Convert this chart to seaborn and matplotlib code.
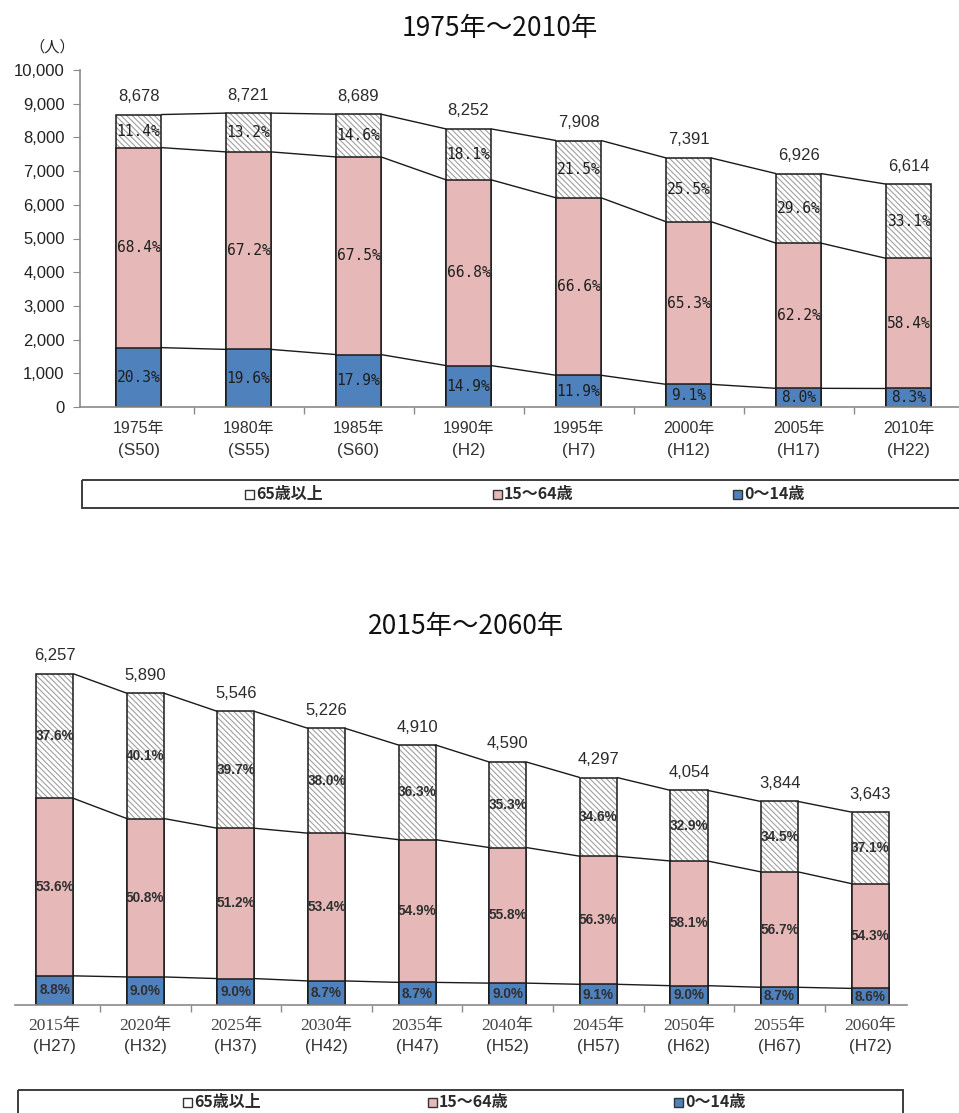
import matplotlib
matplotlib.use("Agg")
import matplotlib.pyplot as plt
from matplotlib.patches import Rectangle
import seaborn as sns

# ---- data -------------------------------------------------------------
past_years = ["1975年", "1980年", "1985年", "1990年", "1995年", "2000年", "2005年", "2010年"]
past_eras = ["(S50)", "(S55)", "(S60)", "(H2)", "(H7)", "(H12)", "(H17)", "(H22)"]
past_total = [8678, 8721, 8689, 8252, 7908, 7391, 6926, 6614]
past_p65 = [11.4, 13.2, 14.6, 18.1, 21.5, 25.5, 29.6, 33.1]
past_p1564 = [68.4, 67.2, 67.5, 66.8, 66.6, 65.3, 62.2, 58.4]
past_p014 = [20.3, 19.6, 17.9, 14.9, 11.9, 9.1, 8.0, 8.3]

future_years = ["2015年", "2020年", "2025年", "2030年", "2035年",
                "2040年", "2045年", "2050年", "2055年", "2060年"]
future_eras = ["(H27)", "(H32)", "(H37)", "(H42)", "(H47)",
               "(H52)", "(H57)", "(H62)", "(H67)", "(H72)"]
future_total = [6257, 5890, 5546, 5226, 4910, 4590, 4297, 4054, 3844, 3643]
future_p65 = [37.6, 40.1, 39.7, 38.0, 36.3, 35.3, 34.6, 32.9, 34.5, 37.1]
future_p1564 = [53.6, 50.8, 51.2, 53.4, 54.9, 55.8, 56.3, 58.1, 56.7, 54.3]
future_p014 = [8.8, 9.0, 9.0, 8.7, 8.7, 9.0, 9.1, 9.0, 8.7, 8.6]

groups = ["65歳以上", "15～64歳", "0～14歳"]
titles = ["1975年～2010年", "2015年～2060年"]

# ---- style ------------------------------------------------------------
PINK = "#E6B9B8"
BLUE = "#4F81BD"
HATCH_GRAY = "#a0a0a0"
AXIS_GRAY = "#8a8a8a"
EDGE = "#1a1a1a"
BAR_W = 0.41
HATCH = "\\" * 6

plt.rcParams["font.family"] = ["Liberation Sans", "Noto Sans CJK JP"]
plt.rcParams["hatch.linewidth"] = 0.8

W_PX, H_PX, DPI = 959, 1113, 100
fig = plt.figure(figsize=(W_PX / DPI, H_PX / DPI), dpi=DPI)
PT = 72 / DPI  # points per pixel


def add_axes_px(left, right, top, bottom):
    return fig.add_axes([left / W_PX, 1 - bottom / H_PX,
                         (right - left) / W_PX, (bottom - top) / H_PX])


def draw_panel(ax, years, eras, total, p65, p1564, p014, pct_style,
               year_style, year_off, era_off):
    n = len(years)
    young = [t * a / 100 for t, a in zip(total, p014)]
    upto64 = [y + t * b / 100 for y, t, b in zip(young, total, p1564)]

    # elderly share: hatched full-height bar, then the outline
    sns.barplot(x=years, y=total, color="white", saturation=1, width=BAR_W,
                hatch=HATCH, edgecolor=HATCH_GRAY, linewidth=0,
                errorbar=None, ax=ax)
    sns.barplot(x=years, y=total, fill=False, color=EDGE, width=BAR_W,
                linewidth=1.1, errorbar=None, ax=ax)
    # working age and children stacked from the baseline
    sns.barplot(x=years, y=upto64, color=PINK, saturation=1, width=BAR_W,
                edgecolor=EDGE, linewidth=1.1, errorbar=None, ax=ax)
    sns.barplot(x=years, y=young, color=BLUE, saturation=1, width=BAR_W,
                edgecolor=EDGE, linewidth=1.1, errorbar=None, ax=ax)

    # connector lines between neighbouring bars
    for level in (total, upto64, young):
        for i in range(n - 1):
            ax.plot([i + BAR_W / 2, i + 1 - BAR_W / 2], [level[i], level[i + 1]],
                    color=EDGE, lw=1.0, solid_capstyle="butt")

    # share labels centred in each segment
    for i in range(n):
        segs = [((upto64[i] + total[i]) / 2, p65[i]),
                ((young[i] + upto64[i]) / 2, p1564[i]),
                (young[i] / 2, p014[i])]
        for mid, p in segs:
            ax.text(i, mid, f"{p:.1f}%", ha="center", va="center", **pct_style)
        ax.annotate(f"{total[i]:,}", (i, total[i]), xytext=(0, 18 * PT),
                    textcoords="offset points", ha="center", va="center",
                    fontsize=12, color="#2b2b2b")

    # two-line category labels
    xt = ax.get_xaxis_transform()
    for i in range(n):
        ax.annotate(years[i], (i, 0), xycoords=xt, xytext=(0, -year_off * PT),
                    textcoords="offset points", ha="center", va="center",
                    **year_style)
        ax.annotate(eras[i], (i, 0), xycoords=xt, xytext=(0, -era_off * PT),
                    textcoords="offset points", ha="center", va="center",
                    fontsize=12.3, color="#333333")

    ax.set_xticks(range(n))
    ax.set_xticklabels([])
    ax.set_xticks([i + 0.5 for i in range(n - 1)], minor=True)
    ax.tick_params(axis="x", which="major", length=0)
    ax.tick_params(axis="x", which="minor", length=5, direction="out",
                   color=AXIS_GRAY, width=1)
    ax.set_xlabel("")
    ax.set_ylabel("")
    for side in ("top", "right"):
        ax.spines[side].set_visible(False)
    ax.spines["bottom"].set_color(AXIS_GRAY)
    ax.spines["bottom"].set_linewidth(1.2)


# ---- upper panel: 1975-2010 -----------------------------------------------
ax1 = add_axes_px(80, 963, 70, 407)
draw_panel(ax1, past_years, past_eras, past_total, past_p65, past_p1564, past_p014,
           pct_style=dict(family=["DejaVu Sans Mono", "Noto Sans CJK JP"],
                          fontsize=10.5, color="#1f1f1f"),
           year_style=dict(fontsize=11.5, color="#333333"),
           year_off=22, era_off=43)
ax1.set_xlim(-0.532, 7.495)
ax1.set_ylim(0, 10000)
ax1.set_yticks(range(0, 10001, 1000))
ax1.set_yticklabels([f"{v:,}" for v in range(0, 10001, 1000)])
ax1.tick_params(axis="y", length=5, direction="out", color=AXIS_GRAY,
                labelsize=12, labelcolor="#222222", pad=6)
ax1.spines["left"].set_color(AXIS_GRAY)
ax1.spines["left"].set_linewidth(1.2)

# ---- lower panel: 2015-2060 -----------------------------------------------
ax2 = add_axes_px(15, 907, 634.4, 1005)
draw_panel(ax2, future_years, future_eras, future_total, future_p65,
           future_p1564, future_p014,
           pct_style=dict(fontsize=9.8, weight="bold", color="#303030"),
           year_style=dict(family=["Liberation Serif", "Noto Sans CJK JP"],
                           fontsize=12.5, color="#444444"),
           year_off=21, era_off=41)
ax2.set_xlim(-0.438, 9.406)
ax2.set_ylim(0, 7000)
ax2.set_yticks([])
ax2.spines["left"].set_visible(False)

# ---- titles, unit and legends on a pixel-space overlay ---------------------
ov = fig.add_axes([0, 0, 1, 1])
ov.set_xlim(0, W_PX)
ov.set_ylim(H_PX, 0)
ov.axis("off")
ov.patch.set_alpha(0)

ov.text(500, 28, titles[0], ha="center", va="center", fontsize=19,
        family=["Noto Sans CJK JP"], color="#111111")
ov.text(466, 626, titles[1], ha="center", va="center", fontsize=19,
        family=["Noto Sans CJK JP"], color="#111111")
ov.text(52, 47, "（人）", ha="center", va="center", fontsize=11,
        family=["Noto Sans CJK JP"], color="#222222")

swatches = ["white", PINK, BLUE]


def legend_box(x0, x1, y0, y1, starts, yc):
    ov.add_patch(Rectangle((x0, y0), x1 - x0, y1 - y0, fill=False,
                           edgecolor="#3c3c3c", lw=1.4, clip_on=False))
    for xs, label, col in zip(starts, groups, swatches):
        ov.add_patch(Rectangle((xs, yc - 4.5), 9, 9, facecolor=col,
                               edgecolor="#333333", lw=1.0))
        ov.text(xs + 11, yc, label, ha="left", va="center", fontsize=11.5,
                weight="bold", family=["Noto Sans CJK JP"], color="#2a2a2a")


legend_box(82, 975, 480, 508, [245, 493, 733], 494)
legend_box(18, 903, 1090, 1125, [183, 428, 674], 1102)

fig.savefig("out.png", dpi=DPI)
